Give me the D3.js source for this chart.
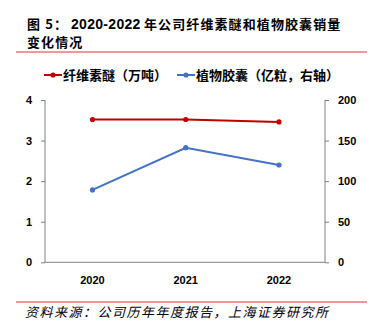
<!DOCTYPE html>
<html>
<head>
<meta charset="utf-8">
<script src="https://cdn.jsdelivr.net/npm/d3@7"></script>
<style>
  html, body { margin: 0; padding: 0; background: #fff; }
  svg { display: block; font-family: "Noto Sans CJK SC", "Liberation Sans", Arial, sans-serif; }
</style>
</head>
<body>
<svg id="chart" width="376" height="327"></svg>
<script>
// Sales data, 2020-2022
const years = ["2020", "2021", "2022"];
const celluloseEther = [3.52, 3.52, 3.46];   // 万吨, left axis
const plantCapsules = [89.2, 141.2, 119.9];  // 亿粒, right axis
const leftTicks = [0, 1, 2, 3, 4];
const rightTicks = [0, 50, 100, 150, 200];

const titleParts = [
  { text: "图 5：", x: 27, y: 29 },
  { text: "2020-2022", x: 71, y: 29, latin: true },
  { text: "年公司纤维素醚和植物胶囊销量", x: 144, y: 29 },
  { text: "变化情况", x: 27, y: 47 }
];
const legendNames = ["纤维素醚（万吨）", "植物胶囊（亿粒，右轴）"];
const sourceText = "资料来源：公司历年年度报告，上海证券研究所";

const RED = "#C00000";
const BLUE = "#4472C4";
const AXIS = "#808080";
const LATIN = "'Liberation Sans', Arial, sans-serif";

const svg = d3.select("#chart");

// Title
svg.append("g").selectAll("text").data(titleParts).join("text")
  .attr("x", d => d.x).attr("y", d => d.y)
  .attr("font-size", 13).attr("font-weight", "bold").attr("fill", "#000")
  .attr("letter-spacing", d => d.latin ? 0.3 : 1.1)
  .attr("font-family", d => d.latin ? LATIN : null)
  .style("font-size", d => d.latin ? "14px" : null)
  .text(d => d.text);

// Red rules
[52, 302].forEach(y => svg.append("line")
  .attr("x1", 16).attr("x2", 367).attr("y1", y).attr("y2", y)
  .attr("stroke", "#E0303A").attr("stroke-width", 1));

// Scales
const x = d3.scalePoint().domain(years).range([92.5, 279]);
const yL = d3.scaleLinear().domain([0, 4]).range([262.3, 100]);
const yR = d3.scaleLinear().domain([0, 200]).range([262.3, 100]);

// Left and right axes
const gL = svg.append("g").attr("transform", "translate(45,0)")
  .call(d3.axisLeft(yL).tickValues(leftTicks).tickSize(4).tickPadding(9).tickFormat(d3.format("d")));
const gR = svg.append("g").attr("transform", "translate(325,0)")
  .call(d3.axisRight(yR).tickValues(rightTicks).tickSize(4).tickPadding(9).tickFormat(d3.format("d")));
[gL, gR].forEach(g => {
  g.select(".domain").attr("stroke", AXIS).attr("d", "M0,100V262.3");
  g.selectAll(".tick line").attr("stroke", AXIS);
  g.selectAll(".tick text").attr("font-size", 11).attr("font-weight", "bold").attr("fill", "#000")
    .attr("font-family", LATIN);
});

// Bottom axis line
svg.append("line").attr("x1", 45).attr("x2", 325).attr("y1", 262.3).attr("y2", 262.3)
  .attr("stroke", AXIS);

// X labels
svg.append("g").selectAll("text").data(years).join("text")
  .attr("x", d => x(d)).attr("y", 284)
  .attr("text-anchor", "middle").attr("font-size", 11).attr("font-weight", "bold")
  .attr("font-family", LATIN)
  .text(d => d);

// Series
const series = [
  { values: celluloseEther, scale: yL, color: RED },
  { values: plantCapsules, scale: yR, color: BLUE }
];
series.forEach(s => {
  const line = d3.line().x((d, i) => x(years[i])).y(d => s.scale(d));
  svg.append("path").datum(s.values).attr("d", line)
    .attr("fill", "none").attr("stroke", s.color).attr("stroke-width", 2);
  svg.append("g").selectAll("circle").data(s.values).join("circle")
    .attr("cx", (d, i) => x(years[i])).attr("cy", d => s.scale(d)).attr("r", 2.6)
    .attr("fill", s.color);
});

// Legend
const legendX = [44, 177];
legendNames.forEach((name, i) => {
  const c = i === 0 ? RED : BLUE;
  const g = svg.append("g").attr("transform", `translate(${legendX[i]},75)`);
  g.append("line").attr("x1", 0).attr("x2", 18).attr("stroke", c).attr("stroke-width", 2);
  g.append("circle").attr("cx", 9).attr("r", 2.6).attr("fill", c);
  g.append("text").attr("x", 19).attr("y", 4.5).attr("font-size", 13)
    .attr("font-weight", "bold").text(name);
});

// Source note
svg.append("text").attr("x", 25).attr("y", 317).attr("font-size", 13)
  .attr("letter-spacing", 1.5)
  .attr("font-style", "italic").attr("fill", "#000").text(sourceText);
</script>
</body>
</html>
